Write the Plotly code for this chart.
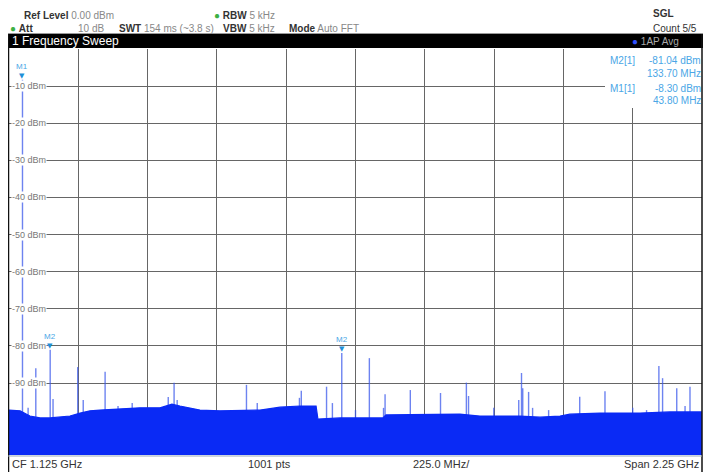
import plotly.graph_objects as go

# ---------------- data ----------------
start_mhz = 0
stop_mhz = 2250
div_mhz = 225
ref_level_dbm = 0
bottom_dbm = -109.4
grid_levels_dbm = [-10, -20, -30, -40, -50, -60, -70, -80, -90]
grid_labels = ["-10 dBm", "-20 dBm", "-30 dBm", "-40 dBm", "-50 dBm",
               "-60 dBm", "-70 dBm", "-80 dBm", "-90 dBm"]

floor_freq_mhz = [0, 36, 68, 101, 133, 166, 198, 231, 263, 295, 360, 425, 490,
                  529, 555, 620, 685, 750, 815, 880, 945, 997, 1003, 1075, 1140,
                  1214, 1224, 1334, 1399, 1464, 1529, 1594, 1659, 1724, 1789,
                  1821, 1919, 2049, 2146, 2250]
floor_dbm = [-97.3, -97.5, -98.9, -99.4, -99.4, -99.2, -98.9, -98.1, -97.5,
             -97.3, -97.0, -96.7, -96.7, -95.7, -96.2, -97.3, -97.5, -97.5,
             -97.3, -96.5, -96.2, -96.2, -99.7, -99.4, -99.4, -99.4, -98.6,
             -98.6, -98.4, -98.4, -98.9, -98.9, -98.9, -99.2, -98.9, -98.4,
             -98.1, -98.1, -97.8, -97.8]

spike_freq_mhz = [43.8, 62, 87, 133.7, 143, 223, 241, 312, 354, 400, 517, 536,
                  546, 771, 806, 943, 949, 1031, 1050, 1080.4, 1125, 1170, 1216,
                  1221, 1303, 1401, 1485, 1492, 1574, 1655, 1664, 1668, 1687,
                  1700, 1752, 1853, 1935, 2025, 2070, 2110, 2122, 2168, 2195, 2211]
spike_dbm = [-8.30, -96.7, -86.0, -81.04, -94.3, -85.7, -94.6, -87.0, -96.2,
             -95.4, -93.8, -89.9, -94.6, -90.5, -95.4, -94.0, -92.1, -91.0,
             -95.4, -81.9, -97.3, -83.3, -96.7, -93.0, -91.9, -92.7, -89.9,
             -93.5, -96.7, -94.6, -87.3, -91.4, -92.4, -96.7, -97.3, -93.7,
             -92.2, -96.7, -97.3, -85.4, -88.7, -91.4, -96.2, -91.0]

marker_names = ["M1", "M2", "M2"]
marker_freq_mhz = [43.8, 133.7, 1080.4]
marker_dbm = [-8.30, -81.04, -81.9]

table_rows = [("M2[1]", "-81.04 dBm", "133.70 MHz"),
              ("M1[1]", "-8.30 dBm", "43.80 MHz")]

# ---------------- layout geometry ----------------
# The page body has an 8 px margin, so the figure is drawn 8 px smaller and
# every page-pixel position below is shifted by OFF.
OFF = 8
PAGE_W, PAGE_H = 711, 472
W, H = PAGE_W - OFF, PAGE_H - OFF
PL, PR, PT, PB = 9, 702, 49, 455          # plot area in page pixels
ML, MR, MT, MB = PL - OFF, PAGE_W - PR, PT - OFF, PAGE_H - PB
PW = W - ML - MR
PH = H - MT - MB


def px(x):
    return (x - PL) / PW


def py(y):
    return (PB - y) / PH


FONT = "Liberation Sans Narrow, Liberation Sans, Arial, sans-serif"
TRACE = "#0a2af5"
SPIKE = "rgba(60,90,235,0.75)"
MK = "#1f8fd8"
MKT = "#4aa6e6"

fig = go.Figure()

# spikes (drawn first so the noise fill covers their lower part)
sx, sy = [], []
for f, v in zip(spike_freq_mhz, spike_dbm):
    sx += [f, f, None]
    sy += [bottom_dbm, v, None]
fig.add_trace(go.Scatter(x=sx, y=sy, mode="lines",
                         line=dict(color=SPIKE, width=1.4),
                         hoverinfo="skip", showlegend=False))

# baseline and noise floor fill
fig.add_trace(go.Scatter(x=[start_mhz, stop_mhz], y=[bottom_dbm, bottom_dbm],
                         mode="lines", line=dict(width=0, color=TRACE),
                         hoverinfo="skip", showlegend=False))
fig.add_trace(go.Scatter(x=floor_freq_mhz, y=floor_dbm, mode="lines",
                         line=dict(color=TRACE, width=1.2),
                         fill="tonexty", fillcolor=TRACE,
                         hoverinfo="skip", showlegend=False))

ann = []
shapes = []

# y level labels
for lv, lab in zip(grid_levels_dbm, grid_labels):
    ann.append(dict(x=px(11), xref="paper", y=lv, yref="y", text=lab,
                    showarrow=False, xanchor="left", yanchor="middle",
                    bgcolor="white", borderpad=0,
                    font=dict(family=FONT, size=9, color="#777")))

# markers
for name, f, v in zip(marker_names, marker_freq_mhz, marker_dbm):
    ann.append(dict(x=f, y=v, xref="x", yref="y", text="▼", showarrow=False,
                    yanchor="bottom", yshift=-2,
                    font=dict(family="DejaVu Sans", size=7, color=MK)))
    ann.append(dict(x=f, y=v, xref="x", yref="y", text=name, showarrow=False,
                    yanchor="bottom", yshift=7,
                    font=dict(family=FONT, size=8, color=MKT)))


def txt(x, y, text, anchor="left", size=10, color="#333", family=FONT):
    ann.append(dict(x=px(x), y=py(y), xref="paper", yref="paper", text=text,
                    showarrow=False, xanchor=anchor, yanchor="middle",
                    font=dict(family=family, size=size, color=color)))


# marker table box
shapes.append(dict(type="rect", xref="paper", yref="paper",
                   x0=px(605), x1=px(702), y0=py(108), y1=py(49),
                   fillcolor="white", line=dict(width=0), layer="above"))
row_y = [[60, 73], [88, 101]]
for (nm, lvl, frq), (y1, y2) in zip(table_rows, row_y):
    txt(608, y1, nm, color=MKT)
    txt(703, y1, lvl, anchor="right", color=MKT)
    txt(703, y2, frq, anchor="right", color=MKT)

# title bar and frame
shapes.append(dict(type="rect", xref="paper", yref="paper",
                   x0=px(7), x1=px(703), y0=py(48), y1=py(34),
                   fillcolor="black", line=dict(width=0), layer="above"))
shapes.append(dict(type="line", xref="paper", yref="paper",
                   x0=px(7), x1=px(703), y0=py(33.5), y1=py(33.5),
                   line=dict(color="#999", width=1)))
for xx in (8.5, 702):
    shapes.append(dict(type="line", xref="paper", yref="paper",
                       x0=px(xx), x1=px(xx), y0=py(472), y1=py(34),
                       line=dict(color="#111", width=1.5), layer="above"))
shapes.append(dict(type="line", xref="paper", yref="paper",
                   x0=px(8), x1=px(702), y0=py(456), y1=py(456),
                   line=dict(color="#9ab", width=1), layer="above"))

txt(10, 41, "1 Frequency Sweep", size=12, color="white")
txt(630, 41, "<span style='color:#3050ff'>●</span> 1AP Avg", color="#aaa")

# header
GREEN = "#3cb043"
GR = "#888"

txt(22, 15, "<b>Ref Level</b> <span style='color:%s'>0.00 dBm</span>" % GR)
txt(212, 15, "<span style='color:%s'>●</span> <b>RBW</b> <span style='color:%s'>5 kHz</span>" % (GREEN, GR))
txt(651, 14, "<b>SGL</b>")
txt(8, 28, "<span style='color:%s'>●</span> <b>Att</b>" % GREEN)
txt(106, 28, "10 dB", anchor="right", color=GR)
txt(117, 28, "<b>SWT</b> <span style='color:%s'>154 ms (~3.8 s)</span>" % GR)
txt(221, 28, "<b>VBW</b> <span style='color:%s'>5 kHz</span>" % GR)
txt(287, 28, "<b>Mode</b> <span style='color:%s'>Auto FFT</span>" % GR)
txt(651, 28, "Count 5/5")

# footer
txt(10, 464, "CF 1.125 GHz", size=11)
txt(269, 464, "1001 pts", anchor="center", size=11)
txt(441, 464, "225.0 MHz/", anchor="center", size=11)
txt(701, 464, "Span 2.25 GHz", anchor="right", size=11)

fig.update_layout(
    width=W, height=H,
    margin=dict(l=ML, r=MR, t=MT, b=MB, pad=0),
    paper_bgcolor="white", plot_bgcolor="white",
    showlegend=False,
    xaxis=dict(range=[start_mhz, stop_mhz], dtick=div_mhz, tick0=start_mhz,
               showgrid=True, gridcolor="#666", gridwidth=1,
               showticklabels=False, zeroline=False, ticks="",
               showline=False, fixedrange=True),
    yaxis=dict(range=[bottom_dbm, ref_level_dbm], dtick=10, tick0=0,
               showgrid=True, gridcolor="#666", gridwidth=1,
               showticklabels=False, zeroline=False, ticks="",
               showline=False, fixedrange=True),
    annotations=ann, shapes=shapes,
)

fig.write_html("out.html", config={"displayModeBar": False})
